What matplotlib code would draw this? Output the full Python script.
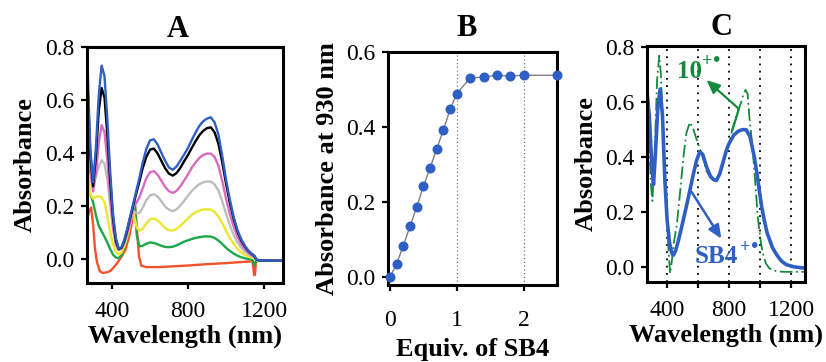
import matplotlib
matplotlib.use("Agg")
import matplotlib.pyplot as plt
from matplotlib.ticker import FixedLocator, NullFormatter
import matplotlib.transforms as mtransforms

plt.rcParams['font.family'] = ['Liberation Serif', 'DejaVu Serif']

# ---------------- Panel A data ----------------
wl_a = [270, 285, 300, 315, 330, 345, 360, 375, 390, 405, 420, 435, 450, 465, 480, 495,
        510, 520, 530, 545, 560, 580, 600, 620, 640, 660, 680, 700, 720, 740, 760, 780,
        800, 820, 840, 860, 880, 900, 920, 940, 960, 980, 1000, 1020, 1040, 1060, 1080,
        1100, 1120, 1140, 1150, 1160, 1180, 1200, 1250, 1300]

abs_blue = [0.75, 0.42, 0.29, 0.42, 0.62, 0.73, 0.69, 0.53, 0.33, 0.17, 0.08, 0.04, 0.045, 0.075, 0.115, 0.16,
            0.205, 0.235, 0.265, 0.31, 0.36, 0.415, 0.448, 0.452, 0.432, 0.40, 0.37, 0.345, 0.337, 0.35, 0.372, 0.395,
            0.42, 0.45, 0.478, 0.503, 0.52, 0.53, 0.535, 0.515, 0.47, 0.39, 0.30, 0.225, 0.16, 0.11, 0.075,
            0.05, 0.03, 0.018, 0.012, -0.002, -0.005, -0.005, -0.006, -0.006]
abs_black = [0.68, 0.40, 0.275, 0.39, 0.56, 0.645, 0.61, 0.47, 0.30, 0.155, 0.07, 0.038, 0.043, 0.07, 0.11, 0.155,
             0.20, 0.228, 0.255, 0.295, 0.34, 0.385, 0.413, 0.417, 0.398, 0.37, 0.342, 0.322, 0.315, 0.325, 0.345, 0.37,
             0.393, 0.42, 0.445, 0.468, 0.484, 0.494, 0.497, 0.478, 0.435, 0.365, 0.285, 0.212, 0.152, 0.105, 0.071,
             0.047, 0.029, 0.017, 0.011, -0.002, -0.005, -0.005, -0.006, -0.006]
abs_magenta = [0.53, 0.33, 0.255, 0.32, 0.44, 0.505, 0.48, 0.375, 0.235, 0.12, 0.055, 0.035, 0.042, 0.065, 0.10, 0.14,
               0.19, 0.205, 0.215, 0.235, 0.265, 0.305, 0.328, 0.332, 0.318, 0.295, 0.272, 0.256, 0.25, 0.258, 0.275, 0.297,
               0.32, 0.345, 0.365, 0.382, 0.393, 0.398, 0.398, 0.385, 0.352, 0.295, 0.228, 0.17, 0.123, 0.085, 0.057,
               0.037, 0.023, 0.013, 0.008, -0.002, -0.005, -0.005, -0.006, -0.006]
abs_gray = [0.44, 0.33, 0.295, 0.315, 0.35, 0.373, 0.36, 0.30, 0.205, 0.115, 0.058, 0.035, 0.04, 0.062, 0.095, 0.135,
            0.18, 0.178, 0.172, 0.175, 0.192, 0.222, 0.24, 0.245, 0.236, 0.218, 0.198, 0.186, 0.181, 0.188, 0.203, 0.22,
            0.24, 0.257, 0.272, 0.283, 0.29, 0.293, 0.292, 0.282, 0.258, 0.218, 0.172, 0.128, 0.092, 0.064, 0.043,
            0.028, 0.017, 0.009, 0.005, -0.003, -0.005, -0.005, -0.006, -0.006]
abs_yellow = [0.355, 0.245, 0.228, 0.236, 0.237, 0.232, 0.215, 0.165, 0.10, 0.055, 0.028, 0.018, 0.025, 0.05, 0.085, 0.13,
              0.185, 0.15, 0.118, 0.107, 0.113, 0.135, 0.15, 0.153, 0.146, 0.132, 0.117, 0.109, 0.108, 0.114, 0.126, 0.14,
              0.154, 0.167, 0.177, 0.183, 0.187, 0.188, 0.187, 0.178, 0.161, 0.136, 0.107, 0.08, 0.057, 0.039, 0.026,
              0.016, 0.009, 0.004, 0.002, -0.004, -0.005, -0.005, -0.006, -0.006]
abs_green = [0.26, 0.245, 0.215, 0.165, 0.125, 0.105, 0.085, 0.062, 0.038, 0.017, 0.006, 0.004, 0.015, 0.045, 0.085, 0.135,
             0.195, 0.21, 0.09, 0.048, 0.05, 0.058, 0.063, 0.061, 0.056, 0.05, 0.046, 0.045, 0.047, 0.052, 0.059, 0.066,
             0.071, 0.076, 0.08, 0.083, 0.085, 0.086, 0.085, 0.08, 0.07, 0.057, 0.043, 0.031, 0.021, 0.013, 0.007,
             0.003, 0.0, -0.002, -0.025, -0.004, -0.005, -0.005, -0.006, -0.006]

wl_red = [270, 280, 290, 300, 310, 320, 335, 350, 370, 390, 410, 430, 450, 470, 490, 505, 513, 519, 526,
          533, 542, 554, 580, 650, 700, 800, 900, 1000, 1100, 1140, 1148, 1152, 1158, 1170, 1200, 1250, 1300]
abs_red = [0.155, 0.18, 0.195, 0.13, 0.04, -0.01, -0.045, -0.052, -0.05, -0.045, -0.03, -0.012, 0.01, 0.035,
           0.085, 0.14, 0.18, 0.218, 0.16, 0.09, 0.01, -0.025, -0.03, -0.03, -0.028, -0.024, -0.019, -0.015,
           -0.01, -0.008, -0.06, -0.06, -0.01, -0.006, -0.005, -0.005, -0.006]

# ---------------- Panel B data ----------------
equiv = [0, 0.1, 0.2, 0.3, 0.4, 0.5, 0.6, 0.7, 0.8, 0.9, 1.0, 1.2, 1.4, 1.6, 1.8, 2.0, 2.5]
abs930 = [0.0, 0.036, 0.084, 0.136, 0.187, 0.242, 0.291, 0.342, 0.393, 0.447, 0.489,
          0.531, 0.533, 0.538, 0.536, 0.538, 0.538]

# ---------------- Panel C data ----------------
wl_sb4 = [272, 285, 300, 312, 325, 340, 355, 370, 385, 400, 415, 430, 441, 455, 470, 494, 520, 547, 570,
          590, 611, 630, 654, 680, 700, 718, 740, 760, 782, 800, 830, 860, 885, 910, 935, 963, 980, 995,
          1010, 1027, 1045, 1059, 1080, 1102, 1125, 1145, 1170, 1190, 1220, 1250, 1285]
abs_sb4 = [0.625, 0.55, 0.38, 0.30, 0.42, 0.58, 0.648, 0.55, 0.32, 0.17, 0.09, 0.05, 0.043, 0.06, 0.09,
           0.146, 0.21, 0.279, 0.34, 0.388, 0.42, 0.41, 0.365, 0.33, 0.318, 0.315, 0.34, 0.38, 0.424, 0.45,
           0.48, 0.495, 0.50, 0.50, 0.475, 0.40, 0.34, 0.279, 0.22, 0.17, 0.125, 0.103, 0.07, 0.049, 0.03,
           0.018, 0.008, 0.005, 0.0, -0.002, -0.004]
wl_10 = [272, 285, 295, 305, 320, 335, 349, 360, 372, 385, 398, 409, 419, 430, 441, 462, 485, 505, 525,
         547, 570, 590, 607, 630, 654, 680, 700, 718, 740, 760, 782, 800, 825, 846, 865, 878, 893, 906,
         920, 931, 943, 953, 963, 975, 985, 1006, 1020, 1038, 1060, 1081, 1110, 1150, 1200, 1250, 1290]
abs_10 = [0.62, 0.45, 0.30, 0.24, 0.42, 0.68, 0.77, 0.70, 0.52, 0.35, 0.218, 0.06, -0.024, 0.02, 0.08,
          0.15, 0.28, 0.40, 0.49, 0.527, 0.50, 0.465, 0.437, 0.40, 0.35, 0.325, 0.316, 0.315, 0.335, 0.37,
          0.42, 0.45, 0.51, 0.545, 0.58, 0.60, 0.63, 0.645, 0.63, 0.545, 0.48, 0.424, 0.35, 0.26, 0.182,
          0.085, 0.045, 0.012, -0.005, -0.012, -0.016, -0.018, -0.018, -0.018, -0.018]
c_vlines = [400, 600, 800, 1000, 1200]

# ---------------- styling ----------------
W, H = 826, 362
fig = plt.figure(figsize=(W / 100, H / 100), dpi=100)

def box(l, t, r, b):
    return [l / W, 1 - b / H, (r - l) / W, (b - t) / H]

TICK_FS = 17
LAB_FS = 19
TITLE_FS = 22
SPINE_W = 2.2

def style(ax):
    for s in ax.spines.values():
        s.set_linewidth(SPINE_W)
    ax.tick_params(direction='out', length=4, width=1.6, labelsize=TICK_FS, pad=5)
    ax.tick_params(which='minor', direction='out', length=4, width=1.6)

C_BLUE = '#2f5fc4'
C_BLACK = '#000000'
C_MAG = '#d86ac0'
C_GRAY = '#bdbdbd'
C_YEL = '#ece630'
C_GREEN = '#1aa84a'
C_RED = '#f2542a'
C_DGREEN = '#168a3c'

# Panel A
axA = fig.add_axes(box(87, 47, 283, 283))
lw = 1.7
axA.plot(wl_red, abs_red, color=C_RED, lw=lw)
axA.plot(wl_a, abs_green, color=C_GREEN, lw=lw)
axA.plot(wl_a, abs_yellow, color=C_YEL, lw=lw)
axA.plot(wl_a, abs_gray, color=C_GRAY, lw=lw)
axA.plot(wl_a, abs_magenta, color=C_MAG, lw=lw)
axA.plot(wl_a, abs_black, color=C_BLACK, lw=lw)
axA.plot(wl_a, abs_blue, color=C_BLUE, lw=lw)
axA.set_xlim(268, 1300)
axA.set_ylim(-0.09, 0.8)
axA.set_xticks([400, 800, 1200])
axA.set_yticks([0.0, 0.2, 0.4, 0.6, 0.8])
axA.set_yticklabels(['0.0', '0.2', '0.4', '0.6', '0.8'])
style(axA)
axA.tick_params(axis='x', pad=9)
axA.set_ylabel('Absorbance', fontsize=LAB_FS, fontweight='bold', labelpad=6)
axA.set_xlabel('Wavelength (nm)', fontsize=LAB_FS, fontweight='bold', labelpad=2)

# Panel B
axB = fig.add_axes(box(388, 52, 557, 285))
for xv in [1, 2]:
    axB.axvline(xv, color='#777777', lw=0.9, ls=(0, (1, 2)))
axB.plot(equiv, abs930, color='#7f7f7f', lw=1.0, marker='o', ms=6.2,
         markerfacecolor=C_BLUE, markeredgecolor=C_BLUE, clip_on=False, zorder=3)
axB.set_xlim(-0.03, 2.5)
axB.set_ylim(-0.021, 0.6)
axB.set_xticks([0, 1, 2])
axB.set_yticks([0.0, 0.2, 0.4, 0.6])
axB.set_yticklabels(['0.0', '0.2', '0.4', '0.6'])
style(axB)
axB.tick_params(axis='x', pad=14)
axB.set_ylabel('Absorbance at 930 nm', fontsize=LAB_FS, fontweight='bold', labelpad=5)
axB.set_xlabel('Equiv. of SB4', fontsize=LAB_FS, fontweight='bold', labelpad=5)

# Panel C
axC = fig.add_axes(box(647, 46, 805, 282))
for xv in c_vlines:
    axC.axvline(xv, color='black', lw=1.3, ls=(0, (1, 3)))
axC.plot(wl_10, abs_10, color=C_DGREEN, lw=1.3, ls=(0, (7, 2, 1, 2)))
axC.plot(wl_sb4, abs_sb4, color=C_BLUE, lw=2.6)
axC.set_xlim(270, 1290)
axC.set_ylim(-0.055, 0.805)
axC.xaxis.set_major_locator(FixedLocator([400, 800, 1200]))
axC.xaxis.set_minor_locator(FixedLocator([600, 1000]))
axC.xaxis.set_minor_formatter(NullFormatter())
axC.set_yticks([0.0, 0.2, 0.4, 0.6, 0.8])
axC.set_yticklabels(['0.0', '0.2', '0.4', '0.6', '0.8'])
style(axC)
axC.tick_params(axis='x', which='both', pad=9)
axC.set_ylabel('Absorbance', fontsize=LAB_FS, fontweight='bold', labelpad=5)
axC.set_xlabel('Wavelength (nm)', fontsize=LAB_FS, fontweight='bold', labelpad=2)

# annotations in C
axC.annotate('', xy=(654, 0.681), xytext=(863, 0.576),
             arrowprops=dict(arrowstyle='-|>,head_length=0.8,head_width=0.35',
                             color=C_DGREEN, lw=1.6, shrinkA=0, shrinkB=0))
axC.plot([863, 822], [0.576, 0.50], color=C_DGREEN, lw=1.6)
axC.text(464, 0.69, '10', color=C_DGREEN, fontsize=18, fontweight='bold',
         ha='left', va='baseline')
axC.text(464, 0.69, '+', color=C_DGREEN, fontsize=13, fontweight='bold',
         ha='left', va='baseline',
         transform=mtransforms.offset_copy(axC.transData, fig=fig, x=18, y=8, units='points'))
axC.text(464, 0.69, '\u2022', color=C_DGREEN, fontsize=15, fontweight='bold',
         ha='left', va='baseline',
         transform=mtransforms.offset_copy(axC.transData, fig=fig, x=25.5, y=8.5, units='points'))
axC.annotate('', xy=(750, 0.103), xytext=(558, 0.273),
             arrowprops=dict(arrowstyle='-|>,head_length=0.8,head_width=0.35',
                             color=C_BLUE, lw=1.8, shrinkA=0, shrinkB=0))
axC.text(579, 0.013, 'SB4', color=C_BLUE, fontsize=18, fontweight='bold',
         ha='left', va='baseline')
axC.text(579, 0.013, '+', color=C_BLUE, fontsize=13, fontweight='bold',
         ha='left', va='baseline',
         transform=mtransforms.offset_copy(axC.transData, fig=fig, x=32.5, y=8, units='points'))
axC.text(579, 0.013, '\u2022', color=C_BLUE, fontsize=15, fontweight='bold',
         ha='left', va='baseline',
         transform=mtransforms.offset_copy(axC.transData, fig=fig, x=40, y=8.5, units='points'))

# panel titles
fig.text(178 / W, 1 - 37 / H, 'A', fontsize=TITLE_FS, fontweight='bold', ha='center', va='baseline')
fig.text(467 / W, 1 - 36 / H, 'B', fontsize=TITLE_FS, fontweight='bold', ha='center', va='baseline')
fig.text(722 / W, 1 - 35 / H, 'C', fontsize=TITLE_FS, fontweight='bold', ha='center', va='baseline')

fig.savefig('out.png', dpi=100)
